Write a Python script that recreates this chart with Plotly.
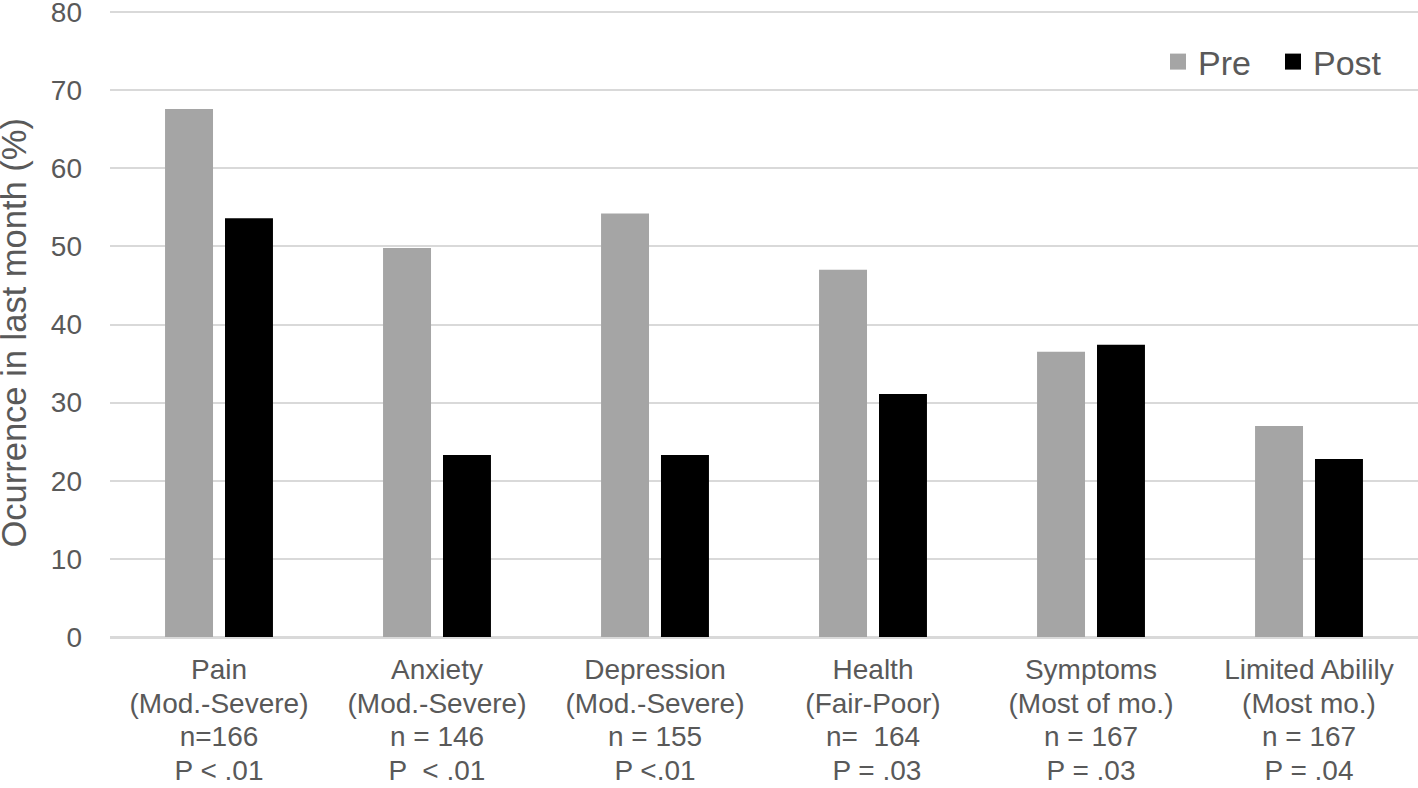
import plotly.graph_objects as go

category_lines = [
    ["Pain", "(Mod.-Severe)", "n=166", "P < .01"],
    ["Anxiety", "(Mod.-Severe)", "n = 146", "P  < .01"],
    ["Depression", "(Mod.-Severe)", "n = 155", "P <.01"],
    ["Health", "(Fair-Poor)", "n=  164", " P = .03"],
    ["Symptoms", "(Most of mo.)", "n = 167", "P = .03"],
    ["Limited Abilily", "(Most mo.)", "n = 167", "P = .04"],
]
pre_values = [67.6, 49.8, 54.2, 47.0, 36.5, 27.0]
post_values = [53.6, 23.3, 23.3, 31.1, 37.4, 22.8]
y_ticks = [0, 10, 20, 30, 40, 50, 60, 70, 80]
y_title = "Ocurrence in last month (%)"

FONT = "Liberation Sans, Arial, sans-serif"
TXT = "#595959"
PRE_C = "#A5A5A5"
POST_C = "#000000"

# glyphs drawn at 28px, line spacing driven by the smaller base font
categories = ["<br>".join(f"<span style='font-size:28px'>{s}</span>" for s in lines)
              for lines in category_lines]

W, H = 1418, 788
L, R, T, B = 110, 0, 10, 151
PW, PH = W - L - R, H - T - B

fig = go.Figure()
fig.add_trace(go.Bar(name="Pre", x=categories, y=pre_values, showlegend=False,
                     marker=dict(color=PRE_C, line=dict(width=0))))
fig.add_trace(go.Bar(name="Post", x=categories, y=post_values, showlegend=False,
                     marker=dict(color=POST_C, line=dict(width=0))))
for nm, col in (("Pre", PRE_C), ("Post", POST_C)):
    fig.add_trace(go.Scatter(name=nm, x=[None], y=[None], mode="markers",
                             marker=dict(symbol="square", size=18, color=col),
                             showlegend=True))

fig.update_layout(
    width=W, height=H,
    margin=dict(l=L, r=R, t=T, b=B, autoexpand=False),
    paper_bgcolor="white", plot_bgcolor="white",
    barmode="group", bargap=0.45, bargroupgap=0.2,
    font=dict(family=FONT, color=TXT, size=28),
    showlegend=True,
    legend=dict(
        orientation="h", x=(1158 - L) / PW, xanchor="left",
        y=(H - B - 62) / PH, yanchor="middle",
        font=dict(size=34, color=TXT, family=FONT),
        bgcolor="rgba(0,0,0,0)", traceorder="normal", itemwidth=30,
        entrywidth=70, entrywidthmode="pixels",
    ),
    xaxis=dict(
        showgrid=False, showline=True, linecolor="#D9D9D9", linewidth=2,
        tickfont=dict(size=25.8, color=TXT, family=FONT), ticks="",
        automargin=False, ticklabelstandoff=9,
    ),
    yaxis=dict(
        range=[0, 80 + 2 / 7.8125], tickvals=y_ticks, showgrid=True, gridcolor="#D9D9D9", gridwidth=2,
        zeroline=True, zerolinecolor="#D9D9D9", zerolinewidth=2,
        showline=False, ticks="", tickfont=dict(size=28, color=TXT, family=FONT),
        ticklabelstandoff=27, automargin=False, ticklabeloverflow="allow",
    ),
    annotations=[dict(
        text=y_title, textangle=-90, xref="paper", yref="paper",
        x=(13 - L) / PW, y=(H - B - 333.5) / PH, xanchor="center", yanchor="middle",
        showarrow=False, font=dict(size=34.5, color=TXT, family=FONT),
    )],
)

fig.write_html("out.html", config={"displayModeBar": False},
               post_script="document.body.style.margin='0';")
